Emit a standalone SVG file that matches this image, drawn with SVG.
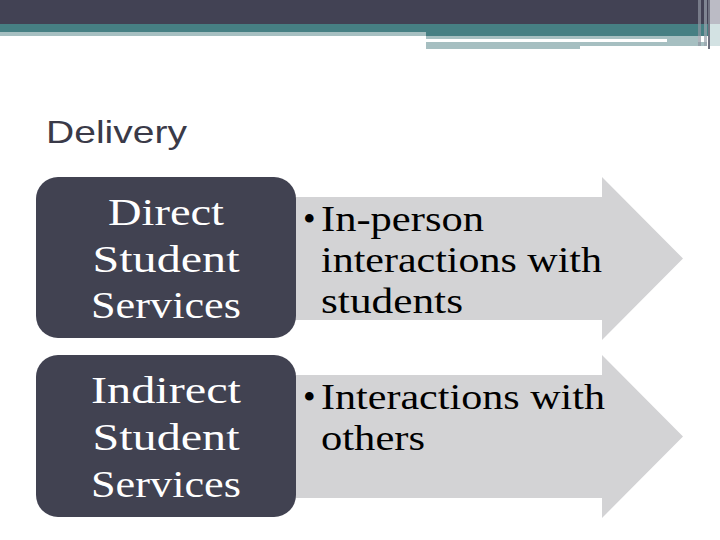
<svg xmlns="http://www.w3.org/2000/svg" width="720" height="540" viewBox="0 0 720 540">
<style>
.box{fill:#414251}
.arrow{fill:#d3d3d5}
.lbl{font-family:"Liberation Serif","Times New Roman",serif;font-size:37px;fill:#ffffff;text-anchor:middle}
.blt{font-family:"Liberation Serif","Times New Roman",serif;font-size:36px;fill:#000000}
.title{font-family:"Liberation Sans",Arial,sans-serif;font-size:32px;fill:#3a3a48}
</style>
<g id="header">
<rect x="0" y="0" width="720" height="24" fill="#424254"/>
<rect x="0" y="24" width="720" height="12" fill="#467f83"/>
<rect x="0" y="32" width="426" height="4" fill="#a6bfc1"/>
<rect x="426" y="36" width="241" height="3" fill="#a6bfc1"/>
<rect x="426" y="42" width="154" height="7" fill="#a6bfc1"/>
<rect x="580" y="42" width="127" height="4" fill="#a6bfc1"/>
<rect x="667" y="36" width="31" height="10" fill="#a6bfc1"/>
<rect x="698" y="0" width="3" height="46" fill="#8e94a0" opacity="0.7"/>
<rect x="704" y="0" width="3" height="46" fill="#9aa2ac" opacity="0.7"/>
<rect x="708" y="0" width="2" height="49" fill="#6f7280"/>
<rect x="710" y="0" width="10" height="24" fill="#bbbbc5"/>
<rect x="710" y="24" width="10" height="22" fill="#d3e2e3"/>
</g>
<g id="title"><text class="title" x="46" y="143" textLength="141" lengthAdjust="spacingAndGlyphs">Delivery</text></g>
<g id="connectors"></g>
<g id="arrow1">
<polygon class="arrow" points="280,197 602,197 602,177 683,258.5 602,340 602,320 280,320"/>
<text class="blt"><tspan x="303" y="231">•</tspan><tspan x="321" y="231" textLength="163" lengthAdjust="spacingAndGlyphs">In-person</tspan><tspan x="321" y="272" textLength="281" lengthAdjust="spacingAndGlyphs">interactions with</tspan><tspan x="321" y="313" textLength="142" lengthAdjust="spacingAndGlyphs">students</tspan></text>
</g>
<g id="box1">
<rect class="box" x="36" y="177" width="260" height="161" rx="22"/>
<text class="lbl"><tspan x="166" y="225" textLength="116" lengthAdjust="spacingAndGlyphs">Direct</tspan><tspan x="166" y="272" textLength="147" lengthAdjust="spacingAndGlyphs">Student</tspan><tspan x="166" y="318" textLength="150" lengthAdjust="spacingAndGlyphs">Services</tspan></text>
</g>
<g id="arrow2">
<polygon class="arrow" points="280,375 602,375 602,355 683,436.5 602,518 602,498 280,498"/>
<text class="blt"><tspan x="303" y="409">•</tspan><tspan x="321" y="409" textLength="284" lengthAdjust="spacingAndGlyphs">Interactions with</tspan><tspan x="321" y="450" textLength="104" lengthAdjust="spacingAndGlyphs">others</tspan></text>
</g>
<g id="box2">
<rect class="box" x="36" y="355" width="260" height="162" rx="22"/>
<text class="lbl"><tspan x="166" y="403" textLength="150" lengthAdjust="spacingAndGlyphs">Indirect</tspan><tspan x="166" y="450" textLength="147" lengthAdjust="spacingAndGlyphs">Student</tspan><tspan x="166" y="497" textLength="150" lengthAdjust="spacingAndGlyphs">Services</tspan></text>
</g>
</svg>
